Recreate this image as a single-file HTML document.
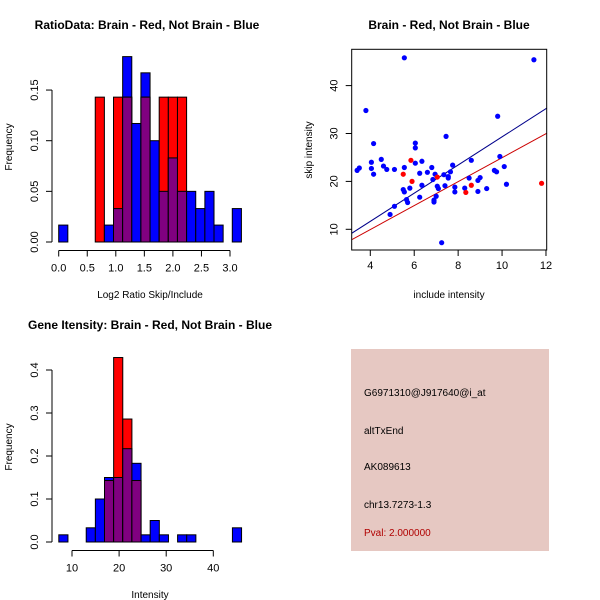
<!DOCTYPE html>
<html><head><meta charset="utf-8"><style>
body{margin:0;background:#fff}
svg{display:block;font-family:"Liberation Sans",sans-serif}
</style></head><body>
<svg id="s" width="600" height="600" viewBox="0 0 600 600">
<rect width="600" height="600" fill="#fff"/>
</svg>
<script>
// Panel 1: ratio histogram
const ratioBreakStart = 0, ratioBinWidth = 0.16;
const ratioBlue = [0.0167,0,0,0,0,0.0167,0.033,0.183,0.117,0.167,0.1,0.05,0.083,0.05,0.05,0.033,0.05,0.0167,0,0.033];
const ratioRed  = [0,0,0,0,0.143,0,0.143,0.143,0,0.143,0,0.143,0.143,0.143,0,0,0,0,0,0];
const ratioXTicks = [0,0.5,1,1.5,2,2.5,3];
const ratioYTicks = [0,0.05,0.10,0.15];
const ratioYLabels = ["0.00","0.05","0.10","0.15"];
// Panel 2: scatter
const blueX = [3.4,3.5,3.8,4.05,4.05,4.15,4.15,4.5,4.6,4.75,4.9,5.1,5.1,5.5,5.55,5.55,5.55,5.65,5.7,5.8,6.05,6.05,6.05,6.25,6.25,6.35,6.35,6.6,6.8,6.85,6.9,6.9,6.95,7.0,7.05,7.1,7.25,7.35,7.4,7.45,7.55,7.55,7.65,7.75,7.85,7.85,8.3,8.5,8.6,8.9,8.9,9.0,9.3,9.65,9.75,9.8,9.9,10.1,10.2,11.45];
const blueY = [22.3,22.8,34.8,24,22.7,27.9,21.5,24.6,23.2,22.5,13.1,14.8,22.5,18.3,17.8,22.9,45.8,16.2,15.6,18.6,28,27,23.8,21.7,16.7,24.2,19.2,21.9,22.9,20.4,15.7,16.1,21.5,16.9,19,18.5,7.2,21.4,19.1,29.4,21,20.7,22,23.4,18.8,17.8,18.6,20.7,24.4,17.9,20.2,20.8,18.5,22.3,22,33.6,25.2,23.1,19.4,45.4];
const redX = [5.5,5.85,5.9,7.05,8.35,8.6,11.8];
const redY = [21.5,24.4,20,20.9,17.7,19.2,19.6];
const blueFit = [-0.1,2.94]; // intercept, slope
const redFit = [-0.05,2.5];
const scatXTicks = [4,6,8,10,12];
const scatYTicks = [10,20,30,40];
// Panel 3: intensity histogram
const intBreakStart = 7.2, intBinWidth = 1.94;
const intBlue = [0.0167,0,0,0.033,0.1,0.15,0.15,0.217,0.183,0.0167,0.05,0.0167,0,0.0167,0.0167,0,0,0,0,0.033];
const intRed  = [0,0,0,0,0,0.143,0.429,0.286,0.143,0,0,0,0,0,0,0,0,0,0,0];
const intXTicks = [10,20,30,40];
const intYTicks = [0,0.1,0.2,0.3,0.4];
const intYLabels = ["0.0","0.1","0.2","0.3","0.4"];

const svg=document.getElementById('s');const NS='http://www.w3.org/2000/svg';
function el(tag,attrs,parent){const e=document.createElementNS(NS,tag);for(const k in attrs)e.setAttribute(k,attrs[k]);(parent||svg).appendChild(e);return e;}
function txt(x,y,s,attrs,name){const t=el('text',Object.assign({x:x,y:y,'font-size':11,'text-anchor':'middle',fill:'#000'},attrs||{}));t.textContent=s;


return t;}

function hist(cfg){
 const g=el('g',{});
 
 
 const sx=v=>cfg.x0px+(v-cfg.x0)*cfg.xs, sy=v=>cfg.y0px-v*cfg.ys;
 for(let i=0;i<cfg.blue.length;i++){
  const a=cfg.start+i*cfg.w,b=a+cfg.w;const x=sx(a),wd=sx(b)-sx(a);
  const bl=cfg.blue[i],rd=cfg.red[i],mn=Math.min(bl,rd);
  if(bl>0){const r=el('rect',{x:x,y:sy(bl),width:wd,height:sy(0)-sy(bl),fill:'#0000ff',stroke:'#000','stroke-width':1},g);
   
   }
  if(rd>0){const r=el('rect',{x:x,y:sy(rd),width:wd,height:sy(0)-sy(rd),fill:'#ff0000',stroke:'#000','stroke-width':1},g);
   
   }
  if(mn>0){const r=el('rect',{x:x,y:sy(mn),width:wd,height:sy(0)-sy(mn),fill:'#800080',stroke:'#000','stroke-width':1},g);
   
   }
 }
 // x axis
 const xa=cfg.xticks;const ay=cfg.y0px+8.5;
 el('line',{x1:sx(xa[0]),x2:sx(xa[xa.length-1]),y1:ay,y2:ay,stroke:'#000'},g);
 xa.forEach(v=>{el('line',{x1:sx(v),x2:sx(v),y1:ay,y2:ay+6,stroke:'#000'},g);txt(sx(v),ay+21,cfg.xlab?cfg.xlab(v):String(v),{},'x-tick-label');});
 // y axis
 const ax=cfg.yaxisX;
 el('line',{x1:ax,x2:ax,y1:sy(cfg.yticks[0]),y2:sy(cfg.yticks[cfg.yticks.length-1]),stroke:'#000'},g);
 cfg.yticks.forEach((v,i)=>{el('line',{x1:ax-6,x2:ax,y1:sy(v),y2:sy(v),stroke:'#000'},g);
  txt(ax-14,sy(v),cfg.ylabels[i],{transform:`rotate(-90 ${ax-14} ${sy(v)})`},'y-tick-label');});
}

hist({name:'ratio-histogram',blue:ratioBlue,red:ratioRed,start:ratioBreakStart,w:ratioBinWidth,x0:0,x0px:58.7,xs:57.1,y0px:242,ys:1013,xticks:ratioXTicks,xlab:v=>v.toFixed(1),yticks:ratioYTicks,ylabels:ratioYLabels,yaxisX:52});
txt(147,29,'RatioData: Brain - Red, Not Brain - Blue',{'font-weight':'bold','font-size':12},'ratio-title');
txt(150,298,'Log2 Ratio Skip/Include',{'font-size':10},'ratio-x-title');
txt(12,147,'Frequency',{'font-size':10,transform:'rotate(-90 12 147)'},'ratio-y-title');

hist({name:'intensity-histogram',blue:intBlue,red:intRed,start:intBreakStart,w:intBinWidth,x0:10,x0px:72,xs:4.71,y0px:542,ys:430,xticks:intXTicks,yticks:intYTicks,ylabels:intYLabels,yaxisX:52});
txt(150,329,'Gene Itensity: Brain - Red, Not Brain - Blue',{'font-weight':'bold','font-size':12},'intensity-title');
txt(150,598,'Intensity',{'font-size':10},'intensity-x-title');
txt(12,447,'Frequency',{'font-size':10,transform:'rotate(-90 12 447)'},'intensity-y-title');

// scatter
(function(){
 const g=el('g',{});
 
 
 const L=351.7,R=546.7,T=49.3,B=250;
 const sx=v=>370.3+(v-4)*21.96, sy=v=>229.3-(v-10)*4.79;
 const cp=el('clipPath',{id:'cp'},g);el('rect',{x:L,y:T,width:R-L,height:B-T},cp);
 const fit=(f,c,n)=>{const x1=(L-370.3)/21.96+4,x2=(R-370.3)/21.96+4;
  const l=el('line',{x1:sx(x1),y1:sy(f[0]+f[1]*x1),x2:sx(x2),y2:sy(f[0]+f[1]*x2),stroke:c,'clip-path':'url(#cp)'},g);
  
  };
 fit(blueFit,'#00008b','blue-fit-line');fit(redFit,'#cc0000','red-fit-line');
 blueX.forEach((x,i)=>{const c=el('circle',{cx:sx(x),cy:sy(blueY[i]),r:2.6,fill:'#0000ff'},g);
  
  });
 redX.forEach((x,i)=>{const c=el('circle',{cx:sx(x),cy:sy(redY[i]),r:2.6,fill:'#ff0000'},g);
  
  });
 el('rect',{x:L,y:T,width:R-L,height:B-T,fill:'none',stroke:'#000'},g);
 scatXTicks.forEach(v=>{el('line',{x1:sx(v),x2:sx(v),y1:B,y2:B+6,stroke:'#000'},g);txt(sx(v),B+19,String(v),{},'x-tick-label');});
 scatYTicks.forEach(v=>{el('line',{x1:L-6,x2:L,y1:sy(v),y2:sy(v),stroke:'#000'},g);txt(L-14,sy(v),String(v),{transform:`rotate(-90 ${L-14} ${sy(v)})`},'y-tick-label');});
})();
txt(449,29,'Brain - Red, Not Brain - Blue',{'font-weight':'bold','font-size':12},'scatter-title');
txt(449,298,'include intensity',{'font-size':10},'scatter-x-title');
txt(312,150,'skip intensity',{'font-size':10,transform:'rotate(-90 312 150)'},'scatter-y-title');

// info panel
const r=el('rect',{x:351,y:349,width:198,height:202,fill:'#e6c8c2'});


txt(364,396,'G6971310@J917640@i_at',{'text-anchor':'start','font-size':10},'probe-id');
txt(364,434,'altTxEnd',{'text-anchor':'start','font-size':10},'event-type');
txt(364,470,'AK089613',{'text-anchor':'start','font-size':10},'accession');
txt(364,508,'chr13.7273-1.3',{'text-anchor':'start','font-size':10},'location');
txt(364,536,'Pval: 2.000000',{'text-anchor':'start','font-size':10,fill:'#b00000'},'p-value');
</script>
</body></html>
